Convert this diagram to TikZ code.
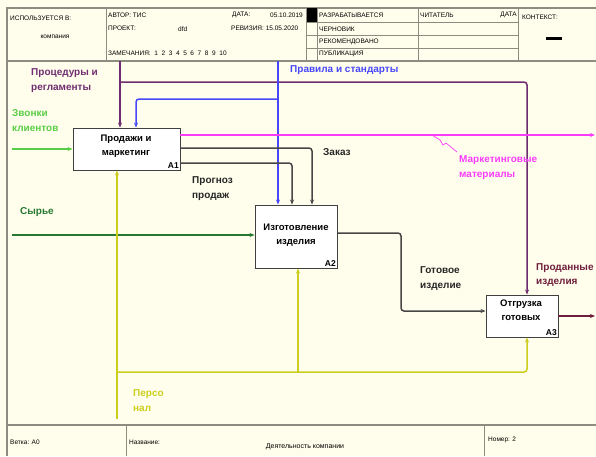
\documentclass[tikz,border=0pt]{standalone}
\usepackage{fontspec}
\setmainfont{Liberation Sans}
\usetikzlibrary{arrows.meta}
\definecolor{bg}{RGB}{255,254,236}
\definecolor{framec}{RGB}{140,140,128}
\definecolor{cpurple}{RGB}{112,44,112}
\definecolor{cblue}{RGB}{70,70,250}
\definecolor{cmag}{RGB}{250,60,250}
\definecolor{clgreen}{RGB}{90,205,70}
\definecolor{cdgreen}{RGB}{40,120,50}
\definecolor{cyellow}{RGB}{205,205,30}
\definecolor{cgray}{RGB}{70,70,70}
\definecolor{cmaroon}{RGB}{110,30,60}
\begin{document}
\begin{tikzpicture}[x=1pt,y=-1pt,
 box/.style={draw=black!75, fill=white, line width=0.9pt, rectangle, inner sep=0pt},
 btext/.style={font=\fontsize{9.5}{14}\selectfont\bfseries, align=center, inner sep=0pt},
 idx/.style={font=\fontsize{8.5}{9}\selectfont\bfseries, anchor=south east, inner sep=1.5pt},
 lbl/.style={font=\fontsize{10}{14.5}\selectfont\bfseries, align=left, anchor=west, inner sep=0pt},
 hdr/.style={font=\fontsize{6.5}{7}\selectfont, anchor=west, inner sep=0pt},
 conn/.style={line width=1.5pt, rounded corners=3pt},
 tip/.style={-{Stealth[length=5pt,width=4pt]}},
 fr/.style={draw=framec, line width=1.5pt},
 thn/.style={draw=framec, line width=0.9pt}]
% background
\fill[bg] (0,0) rectangle (596,456);
\useasboundingbox (0,0) rectangle (596,456);
% frame
\draw[fr] (7,456) -- (7,8) -- (596,8);
\draw[fr] (7,61) -- (596,61);
\draw[fr] (7,425) -- (596,425);
\draw[thn] (106,8) -- (106,61);
\draw[thn] (306,8) -- (306,61);
\draw[thn] (317,8) -- (317,61);
\draw[thn] (418,8) -- (418,61);
\draw[thn] (518,8) -- (518,61);
\draw[thn] (306,22) -- (518,22);
\draw[thn] (306,35) -- (518,35);
\draw[thn] (306,48) -- (518,48);
\fill[black] (307,8) rectangle (317,22);
\draw[thn] (126,425) -- (126,456);
\draw[thn] (484,425) -- (484,456);
\fill[black] (546,37) rectangle (562,40);
% header texts
\node[hdr] (h1) at (10,18) {ИСПОЛЬЗУЕТСЯ В:};
\node[hdr,anchor=center,font=\fontsize{6.5}{7}\selectfont] (h2) at (55,37) {компания};
\node[hdr] (h3) at (108,15) {АВТОР: ТИС};
\node[hdr] (h4) at (232,15) {ДАТА:};
\node[hdr] (h5) at (270,15) {05.10.2019};
\node[hdr] (h6) at (108,28) {ПРОЕКТ:};
\node[hdr] (h7) at (178,29) {dfd};
\node[hdr] (h8) at (231,28) {РЕВИЗИЯ: 15.05.2020};
\node[hdr] (h9) at (108,53) {ЗАМЕЧАНИЯ:\ \ 1\ \ 2\ \ 3\ \ 4\ \ 5\ \ 6\ \ 7\ \ 8\ \ 9\ \ 10};
\node[hdr] (h10) at (319,15) {РАЗРАБАТЫВАЕТСЯ};
\node[hdr] (h11) at (319,29) {ЧЕРНОВИК};
\node[hdr] (h12) at (319,42) {РЕКОМЕНДОВАНО};
\node[hdr] (h13) at (319,54) {ПУБЛИКАЦИЯ};
\node[hdr] (h14) at (420,15) {ЧИТАТЕЛЬ};
\node[hdr,anchor=east] (h15) at (517,15) {ДАТА};
\node[hdr] (h16) at (522,17) {КОНТЕКСТ:};
% footer texts
\node[hdr] (f1) at (10,442) {Ветка: A0};
\node[hdr] (f2) at (129,442) {Название:};
\node[hdr,anchor=center,font=\fontsize{7}{8}\selectfont] (f3) at (305,447) {Деятельность компании};
\node[hdr] (f4) at (488,440) {Номер: 2};
% boxes
\node[box, minimum width=107pt, minimum height=42pt] (A1) at (126.5,149) {};
\node[btext] (t1) at (126,146) {Продажи и\\маркетинг};
\node[idx] (i1) at (A1.south east) {A1};
\node[box, minimum width=82pt, minimum height=63pt] (A2) at (296,236.5) {};
\node[btext] (t2) at (296,235.5) {Изготовление\\изделия};
\node[idx] (i2) at (A2.south east) {A2};
\node[box, minimum width=72pt, minimum height=42pt] (A3) at (522,316) {};
\node[btext] (t3) at (521,310.5) {Отгрузка\\готовых};
\node[idx] (i3) at (A3.south east) {A3};
% coordinates
\coordinate (pTop) at (120,61);
\coordinate (pJ) at (120,82);
\coordinate (pC) at (527,82);
\coordinate (bTop) at (278,61);
\coordinate (bJ) at (278,99);
\coordinate (bC) at (136,99);
\coordinate (mEnd) at (595,135);
\coordinate (zC) at (312,148);
\coordinate (rC) at (292,163);
\coordinate (gStart) at (12,149);
\coordinate (sStart) at (12,235);
\coordinate (yBot) at (117,419);
\coordinate (yJ) at (117,372);
\coordinate (yC) at (527,372);
\coordinate (yB) at (298,372);
\coordinate (gC1) at (401,233);
\coordinate (gC2) at (401,311);
\coordinate (sEnd) at (595,316);
% controls
\draw[conn,cpurple,tip] (pTop) -- (pTop |- A1.north);
\draw[conn,cpurple,tip] (pJ) -- (pC) -- (pC |- A3.north);
\draw[conn,cblue,tip] (bTop) -- (bTop |- A2.north);
\draw[conn,cblue,tip] (bJ) -- (bC) -- (bC |- A1.north);
% outputs of A1
\draw[conn,cmag,tip] (A1.east |- mEnd) -- (mEnd);
\draw[conn,cgray,tip] (A1.east |- zC) -- (zC) -- (zC |- A2.north);
\draw[conn,cgray,tip] (A1.east |- rC) -- (rC) -- (rC |- A2.north);
% inputs
\draw[conn,clgreen,tip] (gStart) -- (A1.west);
\draw[conn,cdgreen,tip] (sStart) -- (A2.west |- sStart);
% mechanisms
\draw[conn,cyellow,tip] (yBot) -- (yBot |- A1.south);
\draw[conn,cyellow,tip] (yJ) -- (yC) -- (yC |- A3.south);
\draw[conn,cyellow,tip] (yB) -- (yB |- A2.south);
% A2 -> A3
\draw[conn,cgray,tip] (A2.east |- gC1) -- (gC1) -- (gC2) -- (A3.west |- gC2);
% A3 output
\draw[conn,cmaroon,tip] (A3.east |- sEnd) -- (sEnd);
% squiggle
\coordinate (q0) at (432,135);
\coordinate (q1) at (457,152);
\draw[cmag,line width=0.7pt] (q0) -- (440,140) -- (443,145) -- (446,143) -- (q1);
% labels
\node[lbl,text=cpurple] (l1) at (31,80.5) {Процедуры и\\регламенты};
\node[lbl,text=cblue] (l2) at (290,70) {Правила и стандарты};
\node[lbl,text=clgreen] (l3) at (12,120.5) {Звонки\\клиентов};
\node[lbl,text=cmag] (l4) at (459,167.5) {Маркетинговые\\материалы};
\node[lbl,text=black!85] (l5) at (323,152) {Заказ};
\node[lbl,text=black!85] (l6) at (192,188.5) {Прогноз\\продаж};
\node[lbl,text=cdgreen] (l7) at (20,212) {Сырье};
\node[lbl,text=cyellow] (l8) at (133,400.5) {Персо\\нал};
\node[lbl,text=black!85] (l9) at (420,278.5) {Готовое\\изделие};
\node[lbl,text=cmaroon] (l10) at (536,275) {Проданные\\изделия};
\end{tikzpicture}
\end{document}
